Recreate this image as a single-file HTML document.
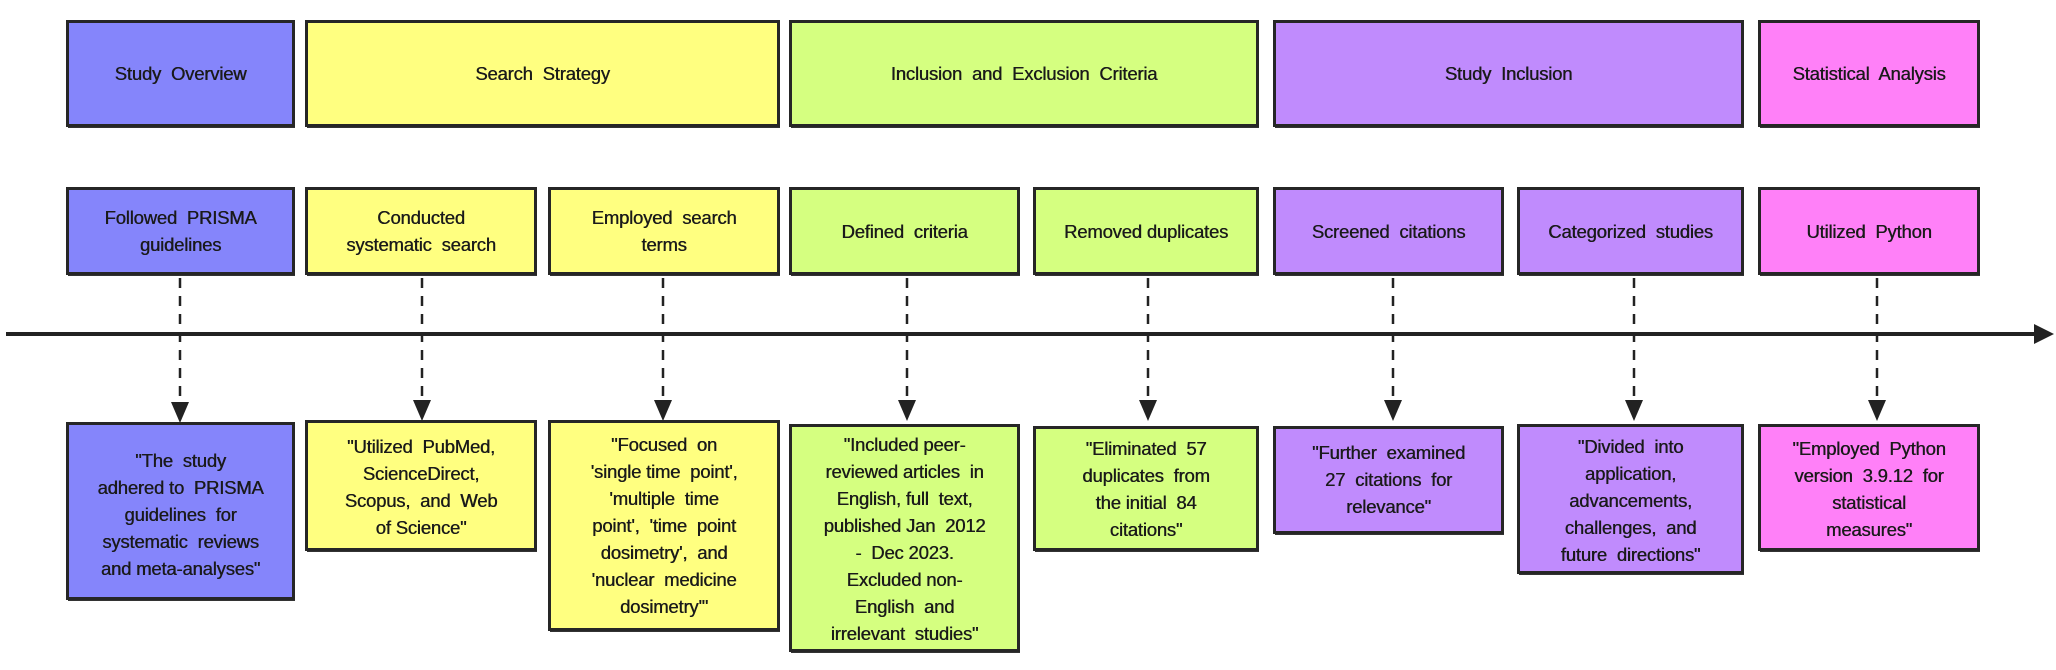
<!DOCTYPE html>
<html><head><meta charset="utf-8"><style>
body{margin:0;width:2056px;height:670px;background:#fff;position:relative;overflow:hidden;font-family:"Liberation Sans",sans-serif;color:#1a1a1a}
.b{position:absolute;box-sizing:border-box;border:3px solid #262626;display:flex;justify-content:center;text-align:center;font-size:18.5px;line-height:27px;box-shadow:1px 2px 0 -1px #333;text-shadow:0.4px 0 0 #1a1a1a;letter-spacing:-0.2px}
.c{align-items:center}
.t{align-items:flex-start;padding-top:10px}
.bl{background:#8585fb}.y{background:#ffff80}.g{background:#d5ff80}.p{background:#c08bfd}.k{background:#ff80f8}
</style></head><body>
<div class="b c bl" style="left:66px;top:20px;width:229px;height:107px">Study&nbsp; Overview</div>
<div class="b c y" style="left:305px;top:20px;width:475px;height:107px">Search&nbsp; Strategy</div>
<div class="b c g" style="left:789px;top:20px;width:470px;height:107px">Inclusion&nbsp; and&nbsp; Exclusion&nbsp; Criteria</div>
<div class="b c p" style="left:1273px;top:20px;width:471px;height:107px">Study&nbsp; Inclusion</div>
<div class="b c k" style="left:1758px;top:20px;width:222px;height:107px">Statistical&nbsp; Analysis</div>

<div class="b c bl" style="left:66px;top:187px;width:229px;height:88px">Followed&nbsp; PRISMA<br>guidelines</div>
<div class="b c y" style="left:305px;top:187px;width:232px;height:88px">Conducted<br>systematic&nbsp; search</div>
<div class="b c y" style="left:548px;top:187px;width:232px;height:88px">Employed&nbsp; search<br>terms</div>
<div class="b c g" style="left:789px;top:187px;width:231px;height:88px">Defined&nbsp; criteria</div>
<div class="b c g" style="left:1033px;top:187px;width:226px;height:88px">Removed duplicates</div>
<div class="b c p" style="left:1273px;top:187px;width:231px;height:88px">Screened&nbsp; citations</div>
<div class="b c p" style="left:1517px;top:187px;width:227px;height:88px">Categorized&nbsp; studies</div>
<div class="b c k" style="left:1758px;top:187px;width:222px;height:88px">Utilized&nbsp; Python</div>

<svg style="position:absolute;left:0;top:0" width="2056" height="670">
<line x1="6" y1="334" x2="2036" y2="334" stroke="#222" stroke-width="4"/>
<polygon points="2034,324 2054,334 2034,344" fill="#222"/>
<g stroke="#222" stroke-width="2.5" stroke-dasharray="10,8">
<line x1="180" y1="278" x2="180" y2="403"/>
<line x1="422" y1="278" x2="422" y2="403"/>
<line x1="663" y1="278" x2="663" y2="403"/>
<line x1="907" y1="278" x2="907" y2="403"/>
<line x1="1148" y1="278" x2="1148" y2="403"/>
<line x1="1393" y1="278" x2="1393" y2="403"/>
<line x1="1634" y1="278" x2="1634" y2="403"/>
<line x1="1877" y1="278" x2="1877" y2="403"/>
</g>
<g fill="#222">
<polygon points="171,402 189,402 180,423"/>
<polygon points="413,400 431,400 422,421"/>
<polygon points="654,400 672,400 663,421"/>
<polygon points="898,400 916,400 907,421"/>
<polygon points="1139,400 1157,400 1148,421"/>
<polygon points="1384,400 1402,400 1393,421"/>
<polygon points="1625,400 1643,400 1634,421"/>
<polygon points="1868,400 1886,400 1877,421"/>
</g>
</svg>

<div class="b t bl" style="left:66px;top:422px;width:229px;height:178px;padding-top:22px">"The&nbsp; study<br>adhered to&nbsp; PRISMA<br>guidelines&nbsp; for<br>systematic&nbsp; reviews<br>and meta-analyses"</div>
<div class="b t y" style="left:305px;top:420px;width:232px;height:131px;padding-top:10px">"Utilized&nbsp; PubMed,<br>ScienceDirect,<br>Scopus,&nbsp; and&nbsp; Web<br>of Science"</div>
<div class="b t y" style="left:548px;top:420px;width:232px;height:211px;padding-top:8px">"Focused&nbsp; on<br>'single time&nbsp; point',<br>'multiple&nbsp; time<br>point',&nbsp; 'time&nbsp; point<br>dosimetry',&nbsp; and<br>'nuclear&nbsp; medicine<br>dosimetry'"</div>
<div class="b t g" style="left:789px;top:424px;width:231px;height:228px;padding-top:4px">"Included peer-<br>reviewed articles&nbsp; in<br>English, full&nbsp; text,<br>published Jan&nbsp; 2012<br>-&nbsp; Dec 2023.<br>Excluded non-<br>English&nbsp; and<br>irrelevant&nbsp; studies"</div>
<div class="b t g" style="left:1033px;top:426px;width:226px;height:125px;padding-top:6px">"Eliminated&nbsp; 57<br>duplicates&nbsp; from<br>the initial&nbsp; 84<br>citations"</div>
<div class="b t p" style="left:1273px;top:426px;width:231px;height:108px;padding-top:10px">"Further&nbsp; examined<br>27&nbsp; citations&nbsp; for<br>relevance"</div>
<div class="b t p" style="left:1517px;top:424px;width:227px;height:150px;padding-top:6px">"Divided&nbsp; into<br>application,<br>advancements,<br>challenges,&nbsp; and<br>future&nbsp; directions"</div>
<div class="b t k" style="left:1758px;top:424px;width:222px;height:127px;padding-top:8px">"Employed&nbsp; Python<br>version&nbsp; 3.9.12&nbsp; for<br>statistical<br>measures"</div>
</body></html>
